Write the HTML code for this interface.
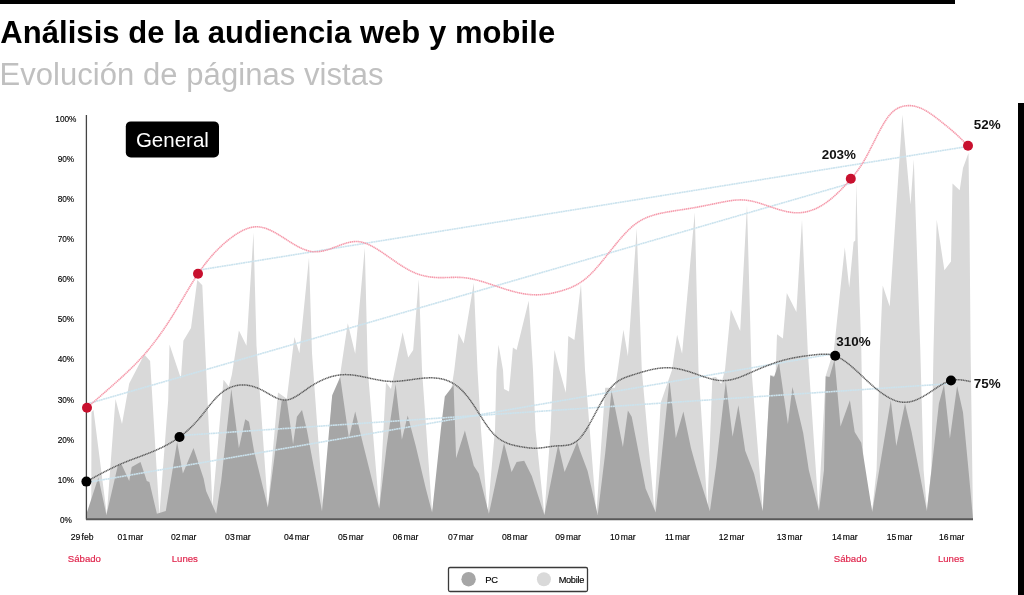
<!DOCTYPE html>
<html><head><meta charset="utf-8">
<style>
html,body{margin:0;padding:0;background:#fff;width:1024px;height:595px;overflow:hidden;}
body{position:relative;font-family:"Liberation Sans",sans-serif;}
svg{position:absolute;left:0;top:0;will-change:transform;font-family:"Liberation Sans",sans-serif;}
.dl{font-size:9.8px;text-anchor:middle;fill:#000;stroke:#000;stroke-width:0.15;}
.yl{font-size:9.4px;text-anchor:middle;fill:#000;stroke:#000;stroke-width:0.15;}
.day{font-size:9.6px;text-anchor:middle;fill:#e0284f;stroke:#e0284f;stroke-width:0.2;}
.pct{font-size:13.4px;font-weight:bold;fill:#111;}
.bl{stroke:#cbe3ee;stroke-width:1.6;stroke-dasharray:2 0.4;}
</style></head><body>
<svg width="1024" height="595" viewBox="0 0 1024 595">
<rect x="0" y="0" width="955" height="4" fill="#000"/>
<rect x="1018" y="103" width="6" height="492" fill="#000"/>
<text x="0.3" y="42.6" font-size="31" font-weight="bold" fill="#000" letter-spacing="0.05">Análisis de la audiencia web y mobile</text>
<text x="-0.6" y="84.8" font-size="31" fill="#c0c0c0" letter-spacing="0.06">Evolución de páginas vistas</text>
<path d="M86.4,519.0 L91.2,517.0 L91.5,412.0 L93.5,410.0 L106.8,514.5 L115.5,399.0 L122.0,424.0 L129.2,383.6 L144.3,354.6 L150.1,360.9 L159.4,515.0 L168.2,400.0 L169.5,344.5 L180.9,378.5 L183.4,340.7 L191.0,328.0 L197.3,280.0 L202.3,285.2 L212.4,506.2 L223.5,379.7 L228.8,386.5 L231.8,375.0 L238.9,330.6 L246.5,345.8 L253.5,232.6 L256.5,345.8 L267.9,507.5 L278.0,392.4 L286.8,398.7 L294.4,336.9 L299.4,353.3 L309.0,257.8 L312.0,353.3 L323.4,511.2 L332.3,394.8 L335.3,406.9 L347.8,323.2 L355.2,353.7 L364.8,247.7 L367.8,370.0 L379.2,508.7 L386.0,382.6 L391.0,389.0 L402.6,332.2 L408.2,357.5 L413.2,349.9 L418.8,279.3 L422.0,370.0 L432.1,512.5 L454.3,370.0 L458.6,333.5 L463.7,343.6 L473.8,283.0 L477.5,370.0 L481.0,430.0 L487.6,513.8 L495.0,430.0 L496.5,370.0 L498.5,344.8 L503.0,370.0 L504.0,389.0 L509.0,391.4 L511.0,370.0 L512.9,347.4 L516.6,350.0 L528.7,300.7 L533.0,370.0 L535.5,430.0 L544.4,515.0 L550.6,430.0 L553.2,370.0 L554.5,349.9 L559.5,370.0 L565.8,392.7 L567.0,370.0 L568.3,336.0 L574.4,340.0 L581.0,284.0 L585.0,370.0 L596.4,513.8 L605.2,387.7 L615.0,387.7 L617.8,370.0 L623.4,329.7 L627.9,356.2 L636.7,228.6 L641.8,370.0 L654.4,510.0 L660.7,402.8 L672.0,370.0 L677.1,334.8 L682.1,353.7 L694.8,212.2 L698.5,370.0 L707.4,507.5 L712.4,377.6 L716.0,377.0 L721.2,383.9 L725.0,370.0 L730.8,309.5 L740.2,331.0 L747.0,204.7 L751.5,370.0 L762.8,511.2 L770.4,375.0 L775.5,376.3 L777.0,334.2 L782.9,338.4 L786.8,293.1 L796.4,312.0 L802.0,219.8 L807.7,350.0 L818.5,509.0 L825.7,376.0 L833.9,350.0 L844.8,247.3 L849.2,287.8 L853.6,242.0 L855.3,240.5 L856.4,182.5 L857.8,245.0 L861.3,350.0 L863.4,470.0 L872.2,510.0 L876.6,470.0 L879.9,350.0 L882.7,285.6 L889.7,306.4 L902.4,114.7 L910.5,204.4 L913.8,159.5 L916.0,225.0 L920.3,350.0 L923.6,470.0 L926.9,508.9 L931.3,470.0 L933.5,350.0 L936.7,219.7 L944.4,270.3 L951.0,261.6 L952.5,183.6 L959.7,190.2 L963.0,168.0 L968.5,153.0 L969.5,225.0 L970.6,350.0 L973.0,519.0 Z" fill="#d9d9d9"/>
<path d="M86.4,519.0 L86.4,514.0 L98.4,477.5 L106.4,515.0 L117.8,465.8 L121.6,464.6 L129.2,481.0 L131.7,467.0 L140.5,462.0 L146.8,481.0 L149.4,482.0 L156.9,513.8 L165.8,511.0 L177.1,441.9 L182.9,473.4 L193.5,448.0 L203.6,478.4 L206.1,491.0 L216.2,513.8 L221.2,481.0 L231.3,388.9 L238.9,448.2 L245.2,419.2 L249.0,421.7 L254.0,450.7 L267.9,507.5 L281.8,400.3 L286.8,400.3 L293.1,444.4 L296.9,416.7 L302.0,410.0 L307.0,430.5 L322.0,511.2 L332.2,395.2 L340.2,377.0 L348.9,438.1 L355.2,411.6 L362.8,443.0 L370.4,473.4 L379.2,508.7 L386.7,445.7 L395.6,383.9 L401.9,439.4 L407.7,415.4 L415.7,445.7 L425.8,488.5 L432.1,512.5 L441.0,428.0 L444.8,396.5 L453.6,385.1 L456.1,458.3 L464.9,430.5 L473.8,465.8 L478.8,473.4 L488.9,513.8 L504.0,443.1 L511.6,472.1 L516.6,462.0 L524.2,460.8 L531.8,475.9 L544.4,515.0 L558.2,444.4 L564.6,472.1 L577.2,441.9 L580.0,450.7 L587.6,470.9 L597.7,515.0 L605.2,453.2 L611.5,390.2 L622.9,446.9 L627.9,410.4 L631.7,416.7 L645.6,488.5 L655.7,512.5 L660.7,465.8 L669.5,380.1 L675.8,438.1 L683.4,411.6 L691.0,448.2 L697.3,470.9 L709.9,511.2 L716.2,465.8 L725.8,381.3 L732.6,436.8 L738.4,405.3 L745.2,450.7 L754.0,473.4 L762.8,511.2 L770.3,375.4 L774.0,377.0 L779.0,362.8 L787.9,424.0 L792.4,387.1 L803.2,433.0 L808.8,470.0 L819.0,511.0 L824.0,470.0 L825.7,376.2 L829.5,377.0 L834.5,359.4 L840.5,426.4 L849.9,400.2 L854.7,431.9 L861.3,442.8 L872.2,512.0 L890.8,400.2 L896.3,446.1 L905.0,403.4 L911.6,431.9 L926.9,511.0 L938.9,403.4 L944.0,384.8 L949.9,438.4 L957.1,386.0 L963.0,412.2 L968.5,470.0 L973.0,519.0 Z" fill="#a6a6a6"/>
<line x1="86.4" y1="115" x2="86.4" y2="519.5" stroke="#444" stroke-width="1.3"/>
<line x1="86" y1="519.2" x2="973" y2="519.2" stroke="#585858" stroke-width="2"/>
<line x1="87.0" y1="404.0" x2="850.8" y2="183.2" class="bl"/>
<line x1="198.0" y1="270.2" x2="968.0" y2="146.4" class="bl"/>
<line x1="86.4" y1="482.6" x2="834.7" y2="353.5" class="bl"/>
<line x1="179.5" y1="435.6" x2="951.0" y2="383.6" class="bl"/>
<path d="M87.00,407.70 L87.75,407.05 L88.50,406.41 L89.25,405.76 L90.00,405.11 L90.75,404.47 L91.50,403.82 L92.25,403.17 L93.00,402.52 L93.75,401.88 L94.50,401.23 L95.25,400.58 L96.00,399.93 L96.75,399.28 L97.50,398.63 L98.25,397.98 L99.00,397.33 L99.75,396.68 L100.50,396.03 L101.25,395.37 L102.00,394.72 L102.75,394.07 L103.50,393.41 L104.25,392.76 L105.00,392.10 L105.75,391.45 L106.50,390.79 L107.25,390.13 L108.00,389.47 L108.75,388.81 L109.50,388.15 L110.25,387.49 L111.00,386.83 L111.75,386.17 L112.50,385.50 L113.25,384.84 L114.00,384.17 L114.75,383.50 L115.50,382.83 L116.25,382.16 L117.00,381.49 L117.75,380.82 L118.50,380.14 L119.25,379.47 L120.00,378.79 L120.75,378.11 L121.50,377.43 L122.25,376.74 L123.00,376.05 L123.75,375.36 L124.50,374.67 L125.25,373.97 L126.00,373.27 L126.75,372.57 L127.50,371.86 L128.25,371.15 L129.00,370.43 L129.75,369.71 L130.50,368.98 L131.25,368.25 L132.00,367.52 L132.75,366.77 L133.50,366.03 L134.25,365.27 L135.00,364.52 L135.75,363.75 L136.50,362.98 L137.25,362.20 L138.00,361.41 L138.75,360.62 L139.50,359.82 L140.25,359.01 L141.00,358.20 L141.75,357.37 L142.50,356.54 L143.25,355.70 L144.00,354.86 L144.75,354.00 L145.50,353.13 L146.25,352.26 L147.00,351.37 L147.75,350.48 L148.50,349.58 L149.25,348.66 L150.00,347.74 L150.75,346.81 L151.50,345.87 L152.25,344.92 L153.00,343.97 L153.75,343.00 L154.50,342.02 L155.25,341.03 L156.00,340.04 L156.75,339.04 L157.50,338.02 L158.25,337.00 L159.00,335.97 L159.75,334.93 L160.50,333.87 L161.25,332.82 L162.00,331.75 L162.75,330.67 L163.50,329.58 L164.25,328.48 L165.00,327.38 L165.75,326.26 L166.50,325.14 L167.25,324.00 L168.00,322.86 L168.75,321.71 L169.50,320.55 L170.25,319.38 L171.00,318.20 L171.75,317.01 L172.50,315.81 L173.25,314.61 L174.00,313.39 L174.75,312.16 L175.50,310.93 L176.25,309.69 L177.00,308.44 L177.75,307.18 L178.50,305.92 L179.25,304.66 L180.00,303.39 L180.75,302.11 L181.50,300.84 L182.25,299.56 L183.00,298.28 L183.75,297.01 L184.50,295.73 L185.25,294.45 L186.00,293.18 L186.75,291.91 L187.50,290.65 L188.25,289.39 L189.00,288.13 L189.75,286.88 L190.50,285.64 L191.25,284.41 L192.00,283.18 L192.75,281.97 L193.50,280.76 L194.25,279.57 L195.00,278.39 L195.75,277.22 L196.50,276.07 L197.25,274.93 L198.00,273.80 L198.75,272.69 L199.50,271.60 L200.25,270.52 L201.00,269.46 L201.75,268.41 L202.50,267.38 L203.25,266.36 L204.00,265.36 L204.75,264.37 L205.50,263.40 L206.25,262.44 L207.00,261.50 L207.75,260.57 L208.50,259.65 L209.25,258.75 L210.00,257.86 L210.75,256.99 L211.50,256.13 L212.25,255.28 L213.00,254.44 L213.75,253.62 L214.50,252.81 L215.25,252.01 L216.00,251.23 L216.75,250.46 L217.50,249.70 L218.25,248.95 L219.00,248.21 L219.75,247.49 L220.50,246.77 L221.25,246.07 L222.00,245.38 L222.75,244.70 L223.50,244.03 L224.25,243.37 L225.00,242.72 L225.75,242.09 L226.50,241.46 L227.25,240.84 L228.00,240.23 L228.75,239.64 L229.50,239.05 L230.25,238.47 L231.00,237.90 L231.75,237.34 L232.50,236.79 L233.25,236.25 L234.00,235.72 L234.75,235.20 L235.50,234.69 L236.25,234.20 L237.00,233.71 L237.75,233.24 L238.50,232.78 L239.25,232.34 L240.00,231.91 L240.75,231.49 L241.50,231.09 L242.25,230.70 L243.00,230.33 L243.75,229.97 L244.50,229.63 L245.25,229.31 L246.00,229.01 L246.75,228.72 L247.50,228.45 L248.25,228.20 L249.00,227.97 L249.75,227.75 L250.50,227.56 L251.25,227.39 L252.00,227.24 L252.75,227.11 L253.50,227.00 L254.25,226.91 L255.00,226.85 L255.75,226.81 L256.50,226.79 L257.25,226.79 L258.00,226.82 L258.75,226.88 L259.50,226.95 L260.25,227.05 L261.00,227.17 L261.75,227.31 L262.50,227.48 L263.25,227.66 L264.00,227.86 L264.75,228.08 L265.50,228.32 L266.25,228.58 L267.00,228.85 L267.75,229.14 L268.50,229.44 L269.25,229.76 L270.00,230.09 L270.75,230.44 L271.50,230.80 L272.25,231.17 L273.00,231.55 L273.75,231.95 L274.50,232.35 L275.25,232.76 L276.00,233.19 L276.75,233.62 L277.50,234.06 L278.25,234.50 L279.00,234.95 L279.75,235.41 L280.50,235.87 L281.25,236.34 L282.00,236.81 L282.75,237.28 L283.50,237.76 L284.25,238.24 L285.00,238.72 L285.75,239.20 L286.50,239.68 L287.25,240.16 L288.00,240.64 L288.75,241.11 L289.50,241.59 L290.25,242.06 L291.00,242.52 L291.75,242.99 L292.50,243.44 L293.25,243.90 L294.00,244.34 L294.75,244.78 L295.50,245.21 L296.25,245.64 L297.00,246.05 L297.75,246.46 L298.50,246.85 L299.25,247.24 L300.00,247.61 L300.75,247.98 L301.50,248.33 L302.25,248.66 L303.00,248.99 L303.75,249.30 L304.50,249.59 L305.25,249.87 L306.00,250.13 L306.75,250.38 L307.50,250.61 L308.25,250.82 L309.00,251.01 L309.75,251.19 L310.50,251.34 L311.25,251.47 L312.00,251.58 L312.75,251.67 L313.50,251.74 L314.25,251.79 L315.00,251.81 L315.75,251.82 L316.50,251.80 L317.25,251.77 L318.00,251.72 L318.75,251.65 L319.50,251.56 L320.25,251.45 L321.00,251.33 L321.75,251.20 L322.50,251.05 L323.25,250.89 L324.00,250.71 L324.75,250.53 L325.50,250.33 L326.25,250.12 L327.00,249.90 L327.75,249.67 L328.50,249.43 L329.25,249.19 L330.00,248.93 L330.75,248.68 L331.50,248.41 L332.25,248.14 L333.00,247.87 L333.75,247.59 L334.50,247.31 L335.25,247.03 L336.00,246.75 L336.75,246.46 L337.50,246.18 L338.25,245.89 L339.00,245.61 L339.75,245.33 L340.50,245.05 L341.25,244.78 L342.00,244.51 L342.75,244.25 L343.50,243.99 L344.25,243.74 L345.00,243.51 L345.75,243.27 L346.50,243.05 L347.25,242.85 L348.00,242.65 L348.75,242.46 L349.50,242.29 L350.25,242.14 L351.00,242.00 L351.75,241.87 L352.50,241.76 L353.25,241.68 L354.00,241.60 L354.75,241.55 L355.50,241.52 L356.25,241.52 L357.00,241.53 L357.75,241.57 L358.50,241.63 L359.25,241.71 L360.00,241.82 L360.75,241.95 L361.50,242.11 L362.25,242.28 L363.00,242.48 L363.75,242.70 L364.50,242.94 L365.25,243.19 L366.00,243.47 L366.75,243.76 L367.50,244.06 L368.25,244.39 L369.00,244.73 L369.75,245.08 L370.50,245.45 L371.25,245.83 L372.00,246.23 L372.75,246.63 L373.50,247.05 L374.25,247.48 L375.00,247.92 L375.75,248.36 L376.50,248.82 L377.25,249.28 L378.00,249.75 L378.75,250.23 L379.50,250.72 L380.25,251.20 L381.00,251.70 L381.75,252.20 L382.50,252.70 L383.25,253.20 L384.00,253.71 L384.75,254.23 L385.50,254.74 L386.25,255.26 L387.00,255.78 L387.75,256.30 L388.50,256.82 L389.25,257.35 L390.00,257.87 L390.75,258.40 L391.50,258.92 L392.25,259.44 L393.00,259.96 L393.75,260.48 L394.50,261.00 L395.25,261.52 L396.00,262.03 L396.75,262.54 L397.50,263.05 L398.25,263.55 L399.00,264.05 L399.75,264.54 L400.50,265.03 L401.25,265.51 L402.00,265.99 L402.75,266.46 L403.50,266.93 L404.25,267.38 L405.00,267.83 L405.75,268.28 L406.50,268.71 L407.25,269.14 L408.00,269.55 L408.75,269.96 L409.50,270.36 L410.25,270.75 L411.00,271.13 L411.75,271.49 L412.50,271.85 L413.25,272.20 L414.00,272.53 L414.75,272.85 L415.50,273.16 L416.25,273.45 L417.00,273.73 L417.75,274.01 L418.50,274.27 L419.25,274.51 L420.00,274.75 L420.75,274.98 L421.50,275.19 L422.25,275.40 L423.00,275.59 L423.75,275.77 L424.50,275.95 L425.25,276.11 L426.00,276.27 L426.75,276.41 L427.50,276.55 L428.25,276.67 L429.00,276.79 L429.75,276.90 L430.50,277.00 L431.25,277.09 L432.00,277.17 L432.75,277.25 L433.50,277.32 L434.25,277.38 L435.00,277.43 L435.75,277.48 L436.50,277.52 L437.25,277.55 L438.00,277.58 L438.75,277.60 L439.50,277.61 L440.25,277.62 L441.00,277.62 L441.75,277.62 L442.50,277.62 L443.25,277.61 L444.00,277.60 L444.75,277.58 L445.50,277.56 L446.25,277.54 L447.00,277.52 L447.75,277.50 L448.50,277.48 L449.25,277.45 L450.00,277.43 L450.75,277.41 L451.50,277.39 L452.25,277.37 L453.00,277.35 L453.75,277.34 L454.50,277.33 L455.25,277.32 L456.00,277.32 L456.75,277.32 L457.50,277.33 L458.25,277.34 L459.00,277.36 L459.75,277.39 L460.50,277.42 L461.25,277.46 L462.00,277.51 L462.75,277.56 L463.50,277.63 L464.25,277.70 L465.00,277.78 L465.75,277.87 L466.50,277.97 L467.25,278.08 L468.00,278.20 L468.75,278.32 L469.50,278.45 L470.25,278.59 L471.00,278.73 L471.75,278.88 L472.50,279.04 L473.25,279.20 L474.00,279.37 L474.75,279.55 L475.50,279.73 L476.25,279.92 L477.00,280.11 L477.75,280.31 L478.50,280.51 L479.25,280.72 L480.00,280.93 L480.75,281.15 L481.50,281.37 L482.25,281.59 L483.00,281.82 L483.75,282.05 L484.50,282.28 L485.25,282.52 L486.00,282.76 L486.75,283.00 L487.50,283.24 L488.25,283.49 L489.00,283.73 L489.75,283.98 L490.50,284.23 L491.25,284.48 L492.00,284.73 L492.75,284.98 L493.50,285.24 L494.25,285.49 L495.00,285.74 L495.75,286.00 L496.50,286.25 L497.25,286.50 L498.00,286.75 L498.75,287.00 L499.50,287.25 L500.25,287.50 L501.00,287.75 L501.75,287.99 L502.50,288.24 L503.25,288.48 L504.00,288.72 L504.75,288.96 L505.50,289.20 L506.25,289.43 L507.00,289.66 L507.75,289.89 L508.50,290.12 L509.25,290.34 L510.00,290.56 L510.75,290.77 L511.50,290.99 L512.25,291.19 L513.00,291.40 L513.75,291.60 L514.50,291.79 L515.25,291.98 L516.00,292.17 L516.75,292.35 L517.50,292.53 L518.25,292.70 L519.00,292.87 L519.75,293.03 L520.50,293.18 L521.25,293.33 L522.00,293.47 L522.75,293.61 L523.50,293.74 L524.25,293.87 L525.00,293.98 L525.75,294.09 L526.50,294.20 L527.25,294.29 L528.00,294.38 L528.75,294.46 L529.50,294.54 L530.25,294.60 L531.00,294.66 L531.75,294.71 L532.50,294.75 L533.25,294.78 L534.00,294.81 L534.75,294.82 L535.50,294.83 L536.25,294.83 L537.00,294.83 L537.75,294.81 L538.50,294.79 L539.25,294.76 L540.00,294.72 L540.75,294.68 L541.50,294.62 L542.25,294.56 L543.00,294.50 L543.75,294.42 L544.50,294.34 L545.25,294.25 L546.00,294.16 L546.75,294.06 L547.50,293.95 L548.25,293.84 L549.00,293.72 L549.75,293.59 L550.50,293.45 L551.25,293.31 L552.00,293.17 L552.75,293.02 L553.50,292.86 L554.25,292.70 L555.00,292.53 L555.75,292.35 L556.50,292.17 L557.25,291.98 L558.00,291.79 L558.75,291.59 L559.50,291.39 L560.25,291.18 L561.00,290.97 L561.75,290.75 L562.50,290.53 L563.25,290.30 L564.00,290.06 L564.75,289.82 L565.50,289.57 L566.25,289.32 L567.00,289.05 L567.75,288.78 L568.50,288.49 L569.25,288.20 L570.00,287.90 L570.75,287.59 L571.50,287.27 L572.25,286.93 L573.00,286.59 L573.75,286.23 L574.50,285.86 L575.25,285.48 L576.00,285.08 L576.75,284.68 L577.50,284.25 L578.25,283.82 L579.00,283.36 L579.75,282.90 L580.50,282.41 L581.25,281.92 L582.00,281.40 L582.75,280.87 L583.50,280.32 L584.25,279.75 L585.00,279.17 L585.75,278.56 L586.50,277.94 L587.25,277.30 L588.00,276.63 L588.75,275.95 L589.50,275.25 L590.25,274.53 L591.00,273.79 L591.75,273.04 L592.50,272.26 L593.25,271.48 L594.00,270.68 L594.75,269.86 L595.50,269.03 L596.25,268.19 L597.00,267.34 L597.75,266.47 L598.50,265.60 L599.25,264.72 L600.00,263.82 L600.75,262.92 L601.50,262.01 L602.25,261.10 L603.00,260.17 L603.75,259.25 L604.50,258.31 L605.25,257.38 L606.00,256.44 L606.75,255.50 L607.50,254.56 L608.25,253.61 L609.00,252.67 L609.75,251.72 L610.50,250.78 L611.25,249.84 L612.00,248.90 L612.75,247.96 L613.50,247.03 L614.25,246.10 L615.00,245.17 L615.75,244.26 L616.50,243.34 L617.25,242.43 L618.00,241.53 L618.75,240.64 L619.50,239.76 L620.25,238.88 L621.00,238.01 L621.75,237.16 L622.50,236.31 L623.25,235.48 L624.00,234.65 L624.75,233.84 L625.50,233.04 L626.25,232.26 L627.00,231.49 L627.75,230.74 L628.50,230.00 L629.25,229.27 L630.00,228.56 L630.75,227.88 L631.50,227.20 L632.25,226.55 L633.00,225.92 L633.75,225.30 L634.50,224.71 L635.25,224.13 L636.00,223.58 L636.75,223.04 L637.50,222.52 L638.25,222.03 L639.00,221.54 L639.75,221.08 L640.50,220.64 L641.25,220.21 L642.00,219.79 L642.75,219.39 L643.50,219.01 L644.25,218.64 L645.00,218.29 L645.75,217.95 L646.50,217.62 L647.25,217.30 L648.00,217.00 L648.75,216.71 L649.50,216.43 L650.25,216.16 L651.00,215.91 L651.75,215.66 L652.50,215.42 L653.25,215.19 L654.00,214.97 L654.75,214.76 L655.50,214.55 L656.25,214.36 L657.00,214.17 L657.75,213.98 L658.50,213.80 L659.25,213.63 L660.00,213.46 L660.75,213.30 L661.50,213.14 L662.25,212.99 L663.00,212.83 L663.75,212.69 L664.50,212.54 L665.25,212.40 L666.00,212.26 L666.75,212.12 L667.50,211.98 L668.25,211.85 L669.00,211.72 L669.75,211.59 L670.50,211.47 L671.25,211.34 L672.00,211.22 L672.75,211.10 L673.50,210.98 L674.25,210.86 L675.00,210.75 L675.75,210.63 L676.50,210.51 L677.25,210.40 L678.00,210.28 L678.75,210.17 L679.50,210.06 L680.25,209.94 L681.00,209.83 L681.75,209.72 L682.50,209.60 L683.25,209.49 L684.00,209.37 L684.75,209.26 L685.50,209.14 L686.25,209.02 L687.00,208.91 L687.75,208.79 L688.50,208.66 L689.25,208.54 L690.00,208.42 L690.75,208.29 L691.50,208.16 L692.25,208.03 L693.00,207.90 L693.75,207.77 L694.50,207.64 L695.25,207.50 L696.00,207.36 L696.75,207.22 L697.50,207.09 L698.25,206.94 L699.00,206.80 L699.75,206.66 L700.50,206.52 L701.25,206.37 L702.00,206.23 L702.75,206.08 L703.50,205.93 L704.25,205.78 L705.00,205.64 L705.75,205.49 L706.50,205.34 L707.25,205.19 L708.00,205.04 L708.75,204.88 L709.50,204.73 L710.25,204.58 L711.00,204.43 L711.75,204.28 L712.50,204.12 L713.25,203.97 L714.00,203.82 L714.75,203.66 L715.50,203.51 L716.25,203.36 L717.00,203.21 L717.75,203.05 L718.50,202.90 L719.25,202.75 L720.00,202.60 L720.75,202.45 L721.50,202.30 L722.25,202.15 L723.00,202.00 L723.75,201.86 L724.50,201.72 L725.25,201.57 L726.00,201.44 L726.75,201.30 L727.50,201.17 L728.25,201.05 L729.00,200.93 L729.75,200.81 L730.50,200.70 L731.25,200.59 L732.00,200.49 L732.75,200.40 L733.50,200.31 L734.25,200.23 L735.00,200.16 L735.75,200.10 L736.50,200.04 L737.25,199.99 L738.00,199.95 L738.75,199.93 L739.50,199.91 L740.25,199.90 L741.00,199.90 L741.75,199.91 L742.50,199.93 L743.25,199.97 L744.00,200.01 L744.75,200.07 L745.50,200.14 L746.25,200.22 L747.00,200.32 L747.75,200.42 L748.50,200.53 L749.25,200.66 L750.00,200.79 L750.75,200.93 L751.50,201.08 L752.25,201.24 L753.00,201.41 L753.75,201.59 L754.50,201.77 L755.25,201.96 L756.00,202.16 L756.75,202.36 L757.50,202.57 L758.25,202.78 L759.00,203.00 L759.75,203.23 L760.50,203.46 L761.25,203.69 L762.00,203.93 L762.75,204.17 L763.50,204.42 L764.25,204.67 L765.00,204.92 L765.75,205.17 L766.50,205.42 L767.25,205.68 L768.00,205.93 L768.75,206.19 L769.50,206.45 L770.25,206.70 L771.00,206.96 L771.75,207.22 L772.50,207.47 L773.25,207.73 L774.00,207.98 L774.75,208.23 L775.50,208.47 L776.25,208.72 L777.00,208.96 L777.75,209.19 L778.50,209.43 L779.25,209.65 L780.00,209.88 L780.75,210.10 L781.50,210.31 L782.25,210.51 L783.00,210.71 L783.75,210.91 L784.50,211.09 L785.25,211.27 L786.00,211.44 L786.75,211.61 L787.50,211.76 L788.25,211.90 L789.00,212.04 L789.75,212.16 L790.50,212.28 L791.25,212.39 L792.00,212.48 L792.75,212.56 L793.50,212.63 L794.25,212.69 L795.00,212.74 L795.75,212.77 L796.50,212.79 L797.25,212.80 L798.00,212.80 L798.75,212.78 L799.50,212.74 L800.25,212.69 L801.00,212.63 L801.75,212.56 L802.50,212.47 L803.25,212.37 L804.00,212.25 L804.75,212.12 L805.50,211.98 L806.25,211.82 L807.00,211.65 L807.75,211.46 L808.50,211.26 L809.25,211.05 L810.00,210.82 L810.75,210.58 L811.50,210.33 L812.25,210.06 L813.00,209.78 L813.75,209.49 L814.50,209.18 L815.25,208.85 L816.00,208.52 L816.75,208.17 L817.50,207.80 L818.25,207.42 L819.00,207.03 L819.75,206.63 L820.50,206.21 L821.25,205.77 L822.00,205.33 L822.75,204.87 L823.50,204.39 L824.25,203.90 L825.00,203.40 L825.75,202.88 L826.50,202.35 L827.25,201.81 L828.00,201.25 L828.75,200.68 L829.50,200.10 L830.25,199.51 L831.00,198.90 L831.75,198.28 L832.50,197.65 L833.25,197.00 L834.00,196.35 L834.75,195.68 L835.50,195.00 L836.25,194.31 L837.00,193.61 L837.75,192.90 L838.50,192.18 L839.25,191.45 L840.00,190.70 L840.75,189.95 L841.50,189.19 L842.25,188.42 L843.00,187.64 L843.75,186.85 L844.50,186.05 L845.25,185.24 L846.00,184.42 L846.75,183.59 L847.50,182.76 L848.25,181.92 L849.00,181.07 L849.75,180.21 L850.50,179.35 L851.25,178.48 L852.00,177.60 L852.75,176.70 L853.50,175.80 L854.25,174.88 L855.00,173.95 L855.75,173.00 L856.50,172.03 L857.25,171.04 L858.00,170.02 L858.75,168.98 L859.50,167.91 L860.25,166.81 L861.00,165.69 L861.75,164.52 L862.50,163.33 L863.25,162.09 L864.00,160.82 L864.75,159.52 L865.50,158.19 L866.25,156.83 L867.00,155.44 L867.75,154.03 L868.50,152.61 L869.25,151.16 L870.00,149.70 L870.75,148.23 L871.50,146.75 L872.25,145.26 L873.00,143.77 L873.75,142.28 L874.50,140.79 L875.25,139.30 L876.00,137.82 L876.75,136.34 L877.50,134.88 L878.25,133.43 L879.00,132.00 L879.75,130.59 L880.50,129.20 L881.25,127.84 L882.00,126.50 L882.75,125.19 L883.50,123.91 L884.25,122.67 L885.00,121.47 L885.75,120.30 L886.50,119.18 L887.25,118.10 L888.00,117.08 L888.75,116.10 L889.50,115.17 L890.25,114.30 L891.00,113.49 L891.75,112.72 L892.50,112.02 L893.25,111.36 L894.00,110.74 L894.75,110.17 L895.50,109.65 L896.25,109.17 L897.00,108.72 L897.75,108.31 L898.50,107.94 L899.25,107.60 L900.00,107.29 L900.75,107.01 L901.50,106.75 L902.25,106.53 L903.00,106.32 L903.75,106.15 L904.50,105.99 L905.25,105.87 L906.00,105.77 L906.75,105.69 L907.50,105.63 L908.25,105.60 L909.00,105.59 L909.75,105.61 L910.50,105.64 L911.25,105.70 L912.00,105.78 L912.75,105.88 L913.50,106.00 L914.25,106.15 L915.00,106.31 L915.75,106.49 L916.50,106.69 L917.25,106.92 L918.00,107.16 L918.75,107.42 L919.50,107.69 L920.25,107.99 L921.00,108.30 L921.75,108.63 L922.50,108.98 L923.25,109.35 L924.00,109.73 L924.75,110.13 L925.50,110.54 L926.25,110.97 L927.00,111.41 L927.75,111.87 L928.50,112.34 L929.25,112.83 L930.00,113.32 L930.75,113.83 L931.50,114.35 L932.25,114.87 L933.00,115.41 L933.75,115.96 L934.50,116.51 L935.25,117.07 L936.00,117.64 L936.75,118.22 L937.50,118.80 L938.25,119.38 L939.00,119.97 L939.75,120.56 L940.50,121.16 L941.25,121.76 L942.00,122.36 L942.75,122.96 L943.50,123.56 L944.25,124.16 L945.00,124.77 L945.75,125.37 L946.50,125.98 L947.25,126.59 L948.00,127.21 L948.75,127.82 L949.50,128.44 L950.25,129.07 L951.00,129.70 L951.75,130.33 L952.50,130.97 L953.25,131.62 L954.00,132.28 L954.75,132.94 L955.50,133.60 L956.25,134.28 L957.00,134.97 L957.75,135.66 L958.50,136.36 L959.25,137.08 L960.00,137.80 L960.75,138.52 L961.50,139.26 L962.25,140.00 L963.00,140.74 L963.75,141.49 L964.50,142.25 L965.25,143.01 L966.00,143.77 L966.75,144.53 L967.50,145.29 L968.00,145.80" fill="none" stroke="#f59aab" stroke-width="1.6" stroke-dasharray="1.4 0.5"/>
<path d="M86.40,481.60 L87.15,481.19 L87.90,480.77 L88.65,480.36 L89.40,479.95 L90.15,479.53 L90.90,479.12 L91.65,478.71 L92.40,478.30 L93.15,477.89 L93.90,477.48 L94.65,477.07 L95.40,476.66 L96.15,476.26 L96.90,475.85 L97.65,475.45 L98.40,475.04 L99.15,474.64 L99.90,474.24 L100.65,473.84 L101.40,473.45 L102.15,473.05 L102.90,472.66 L103.65,472.27 L104.40,471.88 L105.15,471.49 L105.90,471.10 L106.65,470.72 L107.40,470.34 L108.15,469.96 L108.90,469.58 L109.65,469.21 L110.40,468.84 L111.15,468.47 L111.90,468.10 L112.65,467.74 L113.40,467.38 L114.15,467.03 L114.90,466.67 L115.65,466.32 L116.40,465.98 L117.15,465.63 L117.90,465.29 L118.65,464.96 L119.40,464.62 L120.15,464.30 L120.90,463.97 L121.65,463.65 L122.40,463.33 L123.15,463.02 L123.90,462.71 L124.65,462.40 L125.40,462.10 L126.15,461.79 L126.90,461.49 L127.65,461.20 L128.40,460.90 L129.15,460.61 L129.90,460.32 L130.65,460.03 L131.40,459.75 L132.15,459.46 L132.90,459.18 L133.65,458.90 L134.40,458.61 L135.15,458.33 L135.90,458.05 L136.65,457.77 L137.40,457.49 L138.15,457.22 L138.90,456.94 L139.65,456.66 L140.40,456.38 L141.15,456.10 L141.90,455.82 L142.65,455.53 L143.40,455.25 L144.15,454.97 L144.90,454.68 L145.65,454.39 L146.40,454.11 L147.15,453.81 L147.90,453.52 L148.65,453.23 L149.40,452.93 L150.15,452.63 L150.90,452.33 L151.65,452.02 L152.40,451.71 L153.15,451.40 L153.90,451.09 L154.65,450.77 L155.40,450.45 L156.15,450.12 L156.90,449.79 L157.65,449.46 L158.40,449.12 L159.15,448.78 L159.90,448.43 L160.65,448.07 L161.40,447.72 L162.15,447.35 L162.90,446.98 L163.65,446.61 L164.40,446.23 L165.15,445.84 L165.90,445.45 L166.65,445.05 L167.40,444.64 L168.15,444.23 L168.90,443.81 L169.65,443.38 L170.40,442.94 L171.15,442.50 L171.90,442.05 L172.65,441.59 L173.40,441.13 L174.15,440.65 L174.90,440.17 L175.65,439.67 L176.40,439.17 L177.15,438.66 L177.90,438.14 L178.65,437.61 L179.40,437.07 L180.15,436.52 L180.90,435.96 L181.65,435.39 L182.40,434.81 L183.15,434.22 L183.90,433.62 L184.65,433.01 L185.40,432.38 L186.15,431.74 L186.90,431.09 L187.65,430.43 L188.40,429.76 L189.15,429.07 L189.90,428.37 L190.65,427.66 L191.40,426.93 L192.15,426.19 L192.90,425.44 L193.65,424.67 L194.40,423.89 L195.15,423.09 L195.90,422.28 L196.65,421.45 L197.40,420.61 L198.15,419.75 L198.90,418.87 L199.65,417.98 L200.40,417.08 L201.15,416.16 L201.90,415.23 L202.65,414.28 L203.40,413.34 L204.15,412.38 L204.90,411.42 L205.65,410.46 L206.40,409.50 L207.15,408.54 L207.90,407.58 L208.65,406.63 L209.40,405.68 L210.15,404.74 L210.90,403.81 L211.65,402.90 L212.40,402.00 L213.15,401.12 L213.90,400.25 L214.65,399.40 L215.40,398.58 L216.15,397.78 L216.90,397.00 L217.65,396.25 L218.40,395.53 L219.15,394.84 L219.90,394.17 L220.65,393.53 L221.40,392.92 L222.15,392.33 L222.90,391.76 L223.65,391.22 L224.40,390.71 L225.15,390.22 L225.90,389.76 L226.65,389.32 L227.40,388.90 L228.15,388.50 L228.90,388.13 L229.65,387.78 L230.40,387.45 L231.15,387.15 L231.90,386.86 L232.65,386.60 L233.40,386.36 L234.15,386.14 L234.90,385.93 L235.65,385.75 L236.40,385.59 L237.15,385.44 L237.90,385.32 L238.65,385.21 L239.40,385.12 L240.15,385.05 L240.90,385.00 L241.65,384.97 L242.40,384.95 L243.15,384.95 L243.90,384.97 L244.65,385.00 L245.40,385.05 L246.15,385.12 L246.90,385.20 L247.65,385.30 L248.40,385.42 L249.15,385.55 L249.90,385.70 L250.65,385.86 L251.40,386.04 L252.15,386.24 L252.90,386.44 L253.65,386.67 L254.40,386.91 L255.15,387.16 L255.90,387.42 L256.65,387.70 L257.40,388.00 L258.15,388.30 L258.90,388.62 L259.65,388.96 L260.40,389.31 L261.15,389.66 L261.90,390.04 L262.65,390.42 L263.40,390.82 L264.15,391.23 L264.90,391.64 L265.65,392.07 L266.40,392.50 L267.15,392.93 L267.90,393.36 L268.65,393.80 L269.40,394.24 L270.15,394.67 L270.90,395.09 L271.65,395.51 L272.40,395.93 L273.15,396.33 L273.90,396.72 L274.65,397.10 L275.40,397.46 L276.15,397.80 L276.90,398.13 L277.65,398.44 L278.40,398.72 L279.15,398.98 L279.90,399.22 L280.65,399.43 L281.40,399.61 L282.15,399.76 L282.90,399.87 L283.65,399.95 L284.40,400.00 L285.15,400.01 L285.90,399.98 L286.65,399.91 L287.40,399.80 L288.15,399.66 L288.90,399.48 L289.65,399.27 L290.40,399.03 L291.15,398.76 L291.90,398.46 L292.65,398.13 L293.40,397.78 L294.15,397.41 L294.90,397.01 L295.65,396.59 L296.40,396.16 L297.15,395.71 L297.90,395.24 L298.65,394.76 L299.40,394.26 L300.15,393.76 L300.90,393.25 L301.65,392.73 L302.40,392.20 L303.15,391.67 L303.90,391.14 L304.65,390.60 L305.40,390.07 L306.15,389.54 L306.90,389.01 L307.65,388.48 L308.40,387.97 L309.15,387.46 L309.90,386.96 L310.65,386.47 L311.40,385.99 L312.15,385.52 L312.90,385.05 L313.65,384.60 L314.40,384.15 L315.15,383.72 L315.90,383.29 L316.65,382.87 L317.40,382.46 L318.15,382.06 L318.90,381.67 L319.65,381.29 L320.40,380.92 L321.15,380.56 L321.90,380.21 L322.65,379.87 L323.40,379.54 L324.15,379.22 L324.90,378.91 L325.65,378.61 L326.40,378.32 L327.15,378.04 L327.90,377.77 L328.65,377.52 L329.40,377.27 L330.15,377.03 L330.90,376.80 L331.65,376.59 L332.40,376.38 L333.15,376.19 L333.90,376.00 L334.65,375.83 L335.40,375.67 L336.15,375.52 L336.90,375.38 L337.65,375.26 L338.40,375.14 L339.15,375.04 L339.90,374.94 L340.65,374.86 L341.40,374.79 L342.15,374.73 L342.90,374.69 L343.65,374.65 L344.40,374.63 L345.15,374.62 L345.90,374.62 L346.65,374.63 L347.40,374.65 L348.15,374.68 L348.90,374.72 L349.65,374.77 L350.40,374.82 L351.15,374.89 L351.90,374.96 L352.65,375.04 L353.40,375.13 L354.15,375.23 L354.90,375.33 L355.65,375.44 L356.40,375.55 L357.15,375.67 L357.90,375.80 L358.65,375.93 L359.40,376.06 L360.15,376.20 L360.90,376.34 L361.65,376.49 L362.40,376.64 L363.15,376.80 L363.90,376.95 L364.65,377.11 L365.40,377.27 L366.15,377.43 L366.90,377.59 L367.65,377.76 L368.40,377.92 L369.15,378.09 L369.90,378.25 L370.65,378.42 L371.40,378.58 L372.15,378.74 L372.90,378.90 L373.65,379.06 L374.40,379.22 L375.15,379.37 L375.90,379.52 L376.65,379.67 L377.40,379.81 L378.15,379.96 L378.90,380.09 L379.65,380.22 L380.40,380.35 L381.15,380.47 L381.90,380.59 L382.65,380.70 L383.40,380.80 L384.15,380.90 L384.90,380.99 L385.65,381.08 L386.40,381.15 L387.15,381.22 L387.90,381.28 L388.65,381.33 L389.40,381.37 L390.15,381.41 L390.90,381.43 L391.65,381.44 L392.40,381.45 L393.15,381.45 L393.90,381.43 L394.65,381.41 L395.40,381.39 L396.15,381.35 L396.90,381.31 L397.65,381.27 L398.40,381.21 L399.15,381.15 L399.90,381.09 L400.65,381.02 L401.40,380.94 L402.15,380.86 L402.90,380.78 L403.65,380.69 L404.40,380.60 L405.15,380.51 L405.90,380.41 L406.65,380.31 L407.40,380.21 L408.15,380.11 L408.90,380.00 L409.65,379.90 L410.40,379.79 L411.15,379.68 L411.90,379.58 L412.65,379.47 L413.40,379.36 L414.15,379.26 L414.90,379.15 L415.65,379.05 L416.40,378.95 L417.15,378.85 L417.90,378.75 L418.65,378.66 L419.40,378.57 L420.15,378.48 L420.90,378.40 L421.65,378.32 L422.40,378.24 L423.15,378.17 L423.90,378.11 L424.65,378.05 L425.40,378.00 L426.15,377.95 L426.90,377.91 L427.65,377.88 L428.40,377.85 L429.15,377.83 L429.90,377.82 L430.65,377.82 L431.40,377.82 L432.15,377.84 L432.90,377.86 L433.65,377.89 L434.40,377.93 L435.15,377.99 L435.90,378.05 L436.65,378.13 L437.40,378.21 L438.15,378.31 L438.90,378.42 L439.65,378.54 L440.40,378.67 L441.15,378.82 L441.90,378.98 L442.65,379.15 L443.40,379.34 L444.15,379.55 L444.90,379.77 L445.65,380.01 L446.40,380.26 L447.15,380.53 L447.90,380.82 L448.65,381.13 L449.40,381.46 L450.15,381.81 L450.90,382.18 L451.65,382.57 L452.40,382.99 L453.15,383.42 L453.90,383.88 L454.65,384.36 L455.40,384.87 L456.15,385.40 L456.90,385.95 L457.65,386.53 L458.40,387.14 L459.15,387.77 L459.90,388.43 L460.65,389.11 L461.40,389.83 L462.15,390.56 L462.90,391.33 L463.65,392.12 L464.40,392.94 L465.15,393.78 L465.90,394.66 L466.65,395.55 L467.40,396.48 L468.15,397.43 L468.90,398.41 L469.65,399.41 L470.40,400.44 L471.15,401.49 L471.90,402.57 L472.65,403.67 L473.40,404.79 L474.15,405.93 L474.90,407.07 L475.65,408.24 L476.40,409.41 L477.15,410.59 L477.90,411.77 L478.65,412.96 L479.40,414.15 L480.15,415.34 L480.90,416.52 L481.65,417.70 L482.40,418.87 L483.15,420.03 L483.90,421.18 L484.65,422.31 L485.40,423.43 L486.15,424.52 L486.90,425.60 L487.65,426.65 L488.40,427.68 L489.15,428.68 L489.90,429.65 L490.65,430.59 L491.40,431.49 L492.15,432.36 L492.90,433.19 L493.65,433.98 L494.40,434.73 L495.15,435.45 L495.90,436.14 L496.65,436.79 L497.40,437.41 L498.15,438.01 L498.90,438.57 L499.65,439.10 L500.40,439.61 L501.15,440.09 L501.90,440.54 L502.65,440.98 L503.40,441.39 L504.15,441.77 L504.90,442.14 L505.65,442.49 L506.40,442.82 L507.15,443.13 L507.90,443.43 L508.65,443.71 L509.40,443.97 L510.15,444.22 L510.90,444.46 L511.65,444.68 L512.40,444.89 L513.15,445.09 L513.90,445.28 L514.65,445.46 L515.40,445.63 L516.15,445.80 L516.90,445.95 L517.65,446.10 L518.40,446.25 L519.15,446.39 L519.90,446.53 L520.65,446.66 L521.40,446.79 L522.15,446.92 L522.90,447.05 L523.65,447.17 L524.40,447.29 L525.15,447.40 L525.90,447.51 L526.65,447.61 L527.40,447.71 L528.15,447.80 L528.90,447.88 L529.65,447.95 L530.40,448.02 L531.15,448.08 L531.90,448.12 L532.65,448.16 L533.40,448.19 L534.15,448.21 L534.90,448.22 L535.65,448.22 L536.40,448.20 L537.15,448.18 L537.90,448.14 L538.65,448.09 L539.40,448.03 L540.15,447.96 L540.90,447.89 L541.65,447.80 L542.40,447.71 L543.15,447.62 L543.90,447.52 L544.65,447.41 L545.40,447.31 L546.15,447.20 L546.90,447.09 L547.65,446.97 L548.40,446.86 L549.15,446.75 L549.90,446.65 L550.65,446.54 L551.40,446.44 L552.15,446.34 L552.90,446.25 L553.65,446.16 L554.40,446.08 L555.15,446.01 L555.90,445.95 L556.65,445.90 L557.40,445.85 L558.15,445.82 L558.90,445.79 L559.65,445.76 L560.40,445.74 L561.15,445.71 L561.90,445.68 L562.65,445.65 L563.40,445.60 L564.15,445.55 L564.90,445.49 L565.65,445.41 L566.40,445.31 L567.15,445.20 L567.90,445.06 L568.65,444.90 L569.40,444.72 L570.15,444.50 L570.90,444.26 L571.65,443.99 L572.40,443.68 L573.15,443.33 L573.90,442.94 L574.65,442.52 L575.40,442.05 L576.15,441.53 L576.90,440.97 L577.65,440.36 L578.40,439.69 L579.15,438.97 L579.90,438.19 L580.65,437.36 L581.40,436.47 L582.15,435.52 L582.90,434.53 L583.65,433.49 L584.40,432.41 L585.15,431.28 L585.90,430.12 L586.65,428.92 L587.40,427.68 L588.15,426.42 L588.90,425.13 L589.65,423.81 L590.40,422.48 L591.15,421.12 L591.90,419.75 L592.65,418.37 L593.40,416.97 L594.15,415.57 L594.90,414.16 L595.65,412.75 L596.40,411.35 L597.15,409.94 L597.90,408.54 L598.65,407.15 L599.40,405.77 L600.15,404.41 L600.90,403.06 L601.65,401.72 L602.40,400.41 L603.15,399.12 L603.90,397.85 L604.65,396.62 L605.40,395.41 L606.15,394.24 L606.90,393.10 L607.65,392.00 L608.40,390.94 L609.15,389.92 L609.90,388.94 L610.65,388.02 L611.40,387.14 L612.15,386.31 L612.90,385.53 L613.65,384.79 L614.40,384.09 L615.15,383.43 L615.90,382.81 L616.65,382.22 L617.40,381.67 L618.15,381.15 L618.90,380.66 L619.65,380.21 L620.40,379.78 L621.15,379.37 L621.90,378.99 L622.65,378.63 L623.40,378.29 L624.15,377.96 L624.90,377.66 L625.65,377.36 L626.40,377.08 L627.15,376.82 L627.90,376.56 L628.65,376.30 L629.40,376.05 L630.15,375.81 L630.90,375.57 L631.65,375.33 L632.40,375.08 L633.15,374.84 L633.90,374.60 L634.65,374.36 L635.40,374.12 L636.15,373.88 L636.90,373.65 L637.65,373.41 L638.40,373.18 L639.15,372.95 L639.90,372.72 L640.65,372.49 L641.40,372.27 L642.15,372.05 L642.90,371.83 L643.65,371.62 L644.40,371.41 L645.15,371.20 L645.90,371.00 L646.65,370.80 L647.40,370.60 L648.15,370.41 L648.90,370.23 L649.65,370.05 L650.40,369.87 L651.15,369.70 L651.90,369.54 L652.65,369.38 L653.40,369.23 L654.15,369.08 L654.90,368.94 L655.65,368.81 L656.40,368.68 L657.15,368.56 L657.90,368.45 L658.65,368.35 L659.40,368.25 L660.15,368.16 L660.90,368.08 L661.65,368.01 L662.40,367.94 L663.15,367.89 L663.90,367.84 L664.65,367.80 L665.40,367.77 L666.15,367.75 L666.90,367.74 L667.65,367.74 L668.40,367.75 L669.15,367.77 L669.90,367.81 L670.65,367.85 L671.40,367.90 L672.15,367.96 L672.90,368.04 L673.65,368.12 L674.40,368.22 L675.15,368.32 L675.90,368.44 L676.65,368.56 L677.40,368.70 L678.15,368.84 L678.90,368.99 L679.65,369.15 L680.40,369.31 L681.15,369.49 L681.90,369.67 L682.65,369.85 L683.40,370.05 L684.15,370.25 L684.90,370.46 L685.65,370.67 L686.40,370.89 L687.15,371.11 L687.90,371.34 L688.65,371.57 L689.40,371.80 L690.15,372.05 L690.90,372.29 L691.65,372.54 L692.40,372.79 L693.15,373.04 L693.90,373.30 L694.65,373.55 L695.40,373.81 L696.15,374.07 L696.90,374.34 L697.65,374.60 L698.40,374.86 L699.15,375.12 L699.90,375.39 L700.65,375.65 L701.40,375.91 L702.15,376.17 L702.90,376.42 L703.65,376.68 L704.40,376.93 L705.15,377.17 L705.90,377.41 L706.65,377.65 L707.40,377.88 L708.15,378.10 L708.90,378.32 L709.65,378.53 L710.40,378.74 L711.15,378.94 L711.90,379.12 L712.65,379.30 L713.40,379.47 L714.15,379.64 L714.90,379.79 L715.65,379.93 L716.40,380.06 L717.15,380.17 L717.90,380.28 L718.65,380.37 L719.40,380.45 L720.15,380.52 L720.90,380.57 L721.65,380.61 L722.40,380.63 L723.15,380.64 L723.90,380.63 L724.65,380.60 L725.40,380.56 L726.15,380.50 L726.90,380.43 L727.65,380.34 L728.40,380.23 L729.15,380.11 L729.90,379.98 L730.65,379.83 L731.40,379.67 L732.15,379.50 L732.90,379.32 L733.65,379.12 L734.40,378.91 L735.15,378.69 L735.90,378.46 L736.65,378.23 L737.40,377.98 L738.15,377.72 L738.90,377.46 L739.65,377.18 L740.40,376.91 L741.15,376.62 L741.90,376.33 L742.65,376.03 L743.40,375.72 L744.15,375.41 L744.90,375.10 L745.65,374.78 L746.40,374.46 L747.15,374.14 L747.90,373.81 L748.65,373.49 L749.40,373.16 L750.15,372.83 L750.90,372.49 L751.65,372.16 L752.40,371.83 L753.15,371.50 L753.90,371.17 L754.65,370.85 L755.40,370.52 L756.15,370.20 L756.90,369.87 L757.65,369.55 L758.40,369.23 L759.15,368.91 L759.90,368.60 L760.65,368.28 L761.40,367.97 L762.15,367.66 L762.90,367.35 L763.65,367.05 L764.40,366.75 L765.15,366.45 L765.90,366.15 L766.65,365.86 L767.40,365.57 L768.15,365.28 L768.90,364.99 L769.65,364.71 L770.40,364.43 L771.15,364.16 L771.90,363.88 L772.65,363.62 L773.40,363.35 L774.15,363.09 L774.90,362.83 L775.65,362.58 L776.40,362.33 L777.15,362.09 L777.90,361.84 L778.65,361.61 L779.40,361.38 L780.15,361.15 L780.90,360.93 L781.65,360.71 L782.40,360.49 L783.15,360.29 L783.90,360.08 L784.65,359.88 L785.40,359.69 L786.15,359.50 L786.90,359.32 L787.65,359.14 L788.40,358.96 L789.15,358.79 L789.90,358.62 L790.65,358.46 L791.40,358.30 L792.15,358.15 L792.90,358.00 L793.65,357.85 L794.40,357.71 L795.15,357.57 L795.90,357.43 L796.65,357.30 L797.40,357.17 L798.15,357.04 L798.90,356.91 L799.65,356.79 L800.40,356.68 L801.15,356.56 L801.90,356.45 L802.65,356.34 L803.40,356.23 L804.15,356.12 L804.90,356.02 L805.65,355.92 L806.40,355.82 L807.15,355.72 L807.90,355.63 L808.65,355.53 L809.40,355.44 L810.15,355.35 L810.90,355.26 L811.65,355.18 L812.40,355.09 L813.15,355.01 L813.90,354.92 L814.65,354.84 L815.40,354.76 L816.15,354.68 L816.90,354.60 L817.65,354.52 L818.40,354.45 L819.15,354.38 L819.90,354.32 L820.65,354.27 L821.40,354.23 L822.15,354.19 L822.90,354.16 L823.65,354.14 L824.40,354.14 L825.15,354.14 L825.90,354.16 L826.65,354.20 L827.40,354.25 L828.15,354.31 L828.90,354.40 L829.65,354.49 L830.40,354.61 L831.15,354.75 L831.90,354.91 L832.65,355.09 L833.40,355.29 L834.15,355.52 L834.90,355.77 L835.65,356.04 L836.40,356.34 L837.15,356.66 L837.90,357.01 L838.65,357.38 L839.40,357.76 L840.15,358.17 L840.90,358.60 L841.65,359.05 L842.40,359.52 L843.15,360.00 L843.90,360.50 L844.65,361.02 L845.40,361.55 L846.15,362.10 L846.90,362.66 L847.65,363.24 L848.40,363.83 L849.15,364.43 L849.90,365.05 L850.65,365.67 L851.40,366.31 L852.15,366.96 L852.90,367.61 L853.65,368.27 L854.40,368.94 L855.15,369.62 L855.90,370.30 L856.65,370.99 L857.40,371.69 L858.15,372.38 L858.90,373.09 L859.65,373.79 L860.40,374.50 L861.15,375.21 L861.90,375.91 L862.65,376.62 L863.40,377.33 L864.15,378.04 L864.90,378.74 L865.65,379.45 L866.40,380.15 L867.15,380.84 L867.90,381.53 L868.65,382.22 L869.40,382.90 L870.15,383.58 L870.90,384.25 L871.65,384.92 L872.40,385.58 L873.15,386.23 L873.90,386.87 L874.65,387.51 L875.40,388.14 L876.15,388.76 L876.90,389.37 L877.65,389.98 L878.40,390.57 L879.15,391.15 L879.90,391.73 L880.65,392.29 L881.40,392.84 L882.15,393.38 L882.90,393.91 L883.65,394.42 L884.40,394.93 L885.15,395.42 L885.90,395.89 L886.65,396.36 L887.40,396.81 L888.15,397.24 L888.90,397.66 L889.65,398.06 L890.40,398.45 L891.15,398.82 L891.90,399.18 L892.65,399.51 L893.40,399.84 L894.15,400.14 L894.90,400.42 L895.65,400.69 L896.40,400.94 L897.15,401.17 L897.90,401.37 L898.65,401.56 L899.40,401.73 L900.15,401.88 L900.90,402.00 L901.65,402.11 L902.40,402.19 L903.15,402.25 L903.90,402.29 L904.65,402.30 L905.40,402.29 L906.15,402.26 L906.90,402.20 L907.65,402.12 L908.40,402.02 L909.15,401.90 L909.90,401.76 L910.65,401.60 L911.40,401.42 L912.15,401.22 L912.90,401.00 L913.65,400.76 L914.40,400.51 L915.15,400.23 L915.90,399.95 L916.65,399.64 L917.40,399.33 L918.15,398.99 L918.90,398.65 L919.65,398.29 L920.40,397.91 L921.15,397.53 L921.90,397.13 L922.65,396.73 L923.40,396.31 L924.15,395.88 L924.90,395.44 L925.65,394.99 L926.40,394.54 L927.15,394.08 L927.90,393.61 L928.65,393.13 L929.40,392.65 L930.15,392.16 L930.90,391.66 L931.65,391.17 L932.40,390.67 L933.15,390.16 L933.90,389.66 L934.65,389.15 L935.40,388.65 L936.15,388.15 L936.90,387.65 L937.65,387.16 L938.40,386.67 L939.15,386.19 L939.90,385.72 L940.65,385.26 L941.40,384.81 L942.15,384.37 L942.90,383.94 L943.65,383.53 L944.40,383.13 L945.15,382.75 L945.90,382.39 L946.65,382.05 L947.40,381.73 L948.15,381.43 L948.90,381.15 L949.65,380.89 L950.40,380.66 L951.15,380.46 L951.90,380.29 L952.65,380.14 L953.40,380.01 L954.15,379.91 L954.90,379.83 L955.65,379.77 L956.40,379.74 L957.15,379.72 L957.90,379.72 L958.65,379.74 L959.40,379.78 L960.15,379.83 L960.90,379.90 L961.65,379.98 L962.40,380.07 L963.15,380.18 L963.90,380.29 L964.65,380.41 L965.40,380.54 L966.15,380.68 L966.90,380.83 L967.65,380.98 L968.40,381.13 L969.15,381.29 L969.90,381.45 L970.60,381.60" fill="none" stroke="#5a5a5a" stroke-width="1.5" stroke-dasharray="1.2 0.5"/>
<circle cx="87" cy="407.7" r="5" fill="#c8102e"/>
<circle cx="198" cy="273.8" r="5" fill="#c8102e"/>
<circle cx="850.8" cy="178.8" r="5" fill="#c8102e"/>
<circle cx="968" cy="145.8" r="5" fill="#c8102e"/>
<circle cx="86.4" cy="481.6" r="5" fill="#000"/>
<circle cx="179.5" cy="437" r="5" fill="#000"/>
<circle cx="835.2" cy="355.7" r="5" fill="#000"/>
<circle cx="951" cy="380.5" r="5" fill="#000"/>
<text x="821.7" y="158.8" class="pct">203%</text>
<text x="973.8" y="129.4" class="pct">52%</text>
<text x="836.3" y="346.3" class="pct">310%</text>
<text x="973.8" y="387.5" class="pct">75%</text>
<rect x="125.8" y="121.4" width="93.2" height="36.1" rx="5" fill="#000"/>
<text x="172.4" y="146.8" font-size="20.5" fill="#fff" text-anchor="middle">General</text>
<g transform="translate(65.9,121.7) scale(0.88,1)"><text x="0" y="0" class="yl">100%</text></g>
<g transform="translate(65.9,161.8) scale(0.88,1)"><text x="0" y="0" class="yl">90%</text></g>
<g transform="translate(65.9,201.9) scale(0.88,1)"><text x="0" y="0" class="yl">80%</text></g>
<g transform="translate(65.9,242.1) scale(0.88,1)"><text x="0" y="0" class="yl">70%</text></g>
<g transform="translate(65.9,282.2) scale(0.88,1)"><text x="0" y="0" class="yl">60%</text></g>
<g transform="translate(65.9,322.3) scale(0.88,1)"><text x="0" y="0" class="yl">50%</text></g>
<g transform="translate(65.9,362.4) scale(0.88,1)"><text x="0" y="0" class="yl">40%</text></g>
<g transform="translate(65.9,402.5) scale(0.88,1)"><text x="0" y="0" class="yl">30%</text></g>
<g transform="translate(65.9,442.7) scale(0.88,1)"><text x="0" y="0" class="yl">20%</text></g>
<g transform="translate(65.9,482.8) scale(0.88,1)"><text x="0" y="0" class="yl">10%</text></g>
<g transform="translate(65.9,522.9) scale(0.88,1)"><text x="0" y="0" class="yl">0%</text></g>
<g transform="translate(82.1,540) scale(0.88,1)"><text x="0" y="0" class="dl">29<tspan dx="1.3">feb</tspan></text></g>
<g transform="translate(130.4,540) scale(0.88,1)"><text x="0" y="0" class="dl">01<tspan dx="1.3">mar</tspan></text></g>
<g transform="translate(183.7,540) scale(0.88,1)"><text x="0" y="0" class="dl">02<tspan dx="1.3">mar</tspan></text></g>
<g transform="translate(237.9,540) scale(0.88,1)"><text x="0" y="0" class="dl">03<tspan dx="1.3">mar</tspan></text></g>
<g transform="translate(296.7,540) scale(0.88,1)"><text x="0" y="0" class="dl">04<tspan dx="1.3">mar</tspan></text></g>
<g transform="translate(350.8,540) scale(0.88,1)"><text x="0" y="0" class="dl">05<tspan dx="1.3">mar</tspan></text></g>
<g transform="translate(405.5,540) scale(0.88,1)"><text x="0" y="0" class="dl">06<tspan dx="1.3">mar</tspan></text></g>
<g transform="translate(460.9,540) scale(0.88,1)"><text x="0" y="0" class="dl">07<tspan dx="1.3">mar</tspan></text></g>
<g transform="translate(514.8,540) scale(0.88,1)"><text x="0" y="0" class="dl">08<tspan dx="1.3">mar</tspan></text></g>
<g transform="translate(568.1,540) scale(0.88,1)"><text x="0" y="0" class="dl">09<tspan dx="1.3">mar</tspan></text></g>
<g transform="translate(622.8,540) scale(0.88,1)"><text x="0" y="0" class="dl">10<tspan dx="1.3">mar</tspan></text></g>
<g transform="translate(677.4,540) scale(0.88,1)"><text x="0" y="0" class="dl">11<tspan dx="1.3">mar</tspan></text></g>
<g transform="translate(731.5,540) scale(0.88,1)"><text x="0" y="0" class="dl">12<tspan dx="1.3">mar</tspan></text></g>
<g transform="translate(789.5,540) scale(0.88,1)"><text x="0" y="0" class="dl">13<tspan dx="1.3">mar</tspan></text></g>
<g transform="translate(844.8,540) scale(0.88,1)"><text x="0" y="0" class="dl">14<tspan dx="1.3">mar</tspan></text></g>
<g transform="translate(899.5,540) scale(0.88,1)"><text x="0" y="0" class="dl">15<tspan dx="1.3">mar</tspan></text></g>
<g transform="translate(951.7,540) scale(0.88,1)"><text x="0" y="0" class="dl">16<tspan dx="1.3">mar</tspan></text></g>
<text x="84.4" y="561.5" class="day">Sábado</text>
<text x="184.8" y="561.5" class="day">Lunes</text>
<text x="850.3" y="561.5" class="day">Sábado</text>
<text x="951" y="561.5" class="day">Lunes</text>
<rect x="448.5" y="567.5" width="139" height="24" rx="1.5" fill="#fff" stroke="#3a3a3a" stroke-width="1.3"/>
<circle cx="468.6" cy="579.2" r="7.2" fill="#a6a6a6"/>
<circle cx="543.9" cy="579.2" r="7" fill="#d9d9d9"/>
<text x="485.3" y="583.2" font-size="9.4" fill="#000" stroke="#000" stroke-width="0.15" letter-spacing="-0.4">PC</text>
<text x="558.7" y="583.2" font-size="9.2" fill="#000" stroke="#000" stroke-width="0.15" letter-spacing="-0.3">Mobile</text>
</svg>
</body></html>
